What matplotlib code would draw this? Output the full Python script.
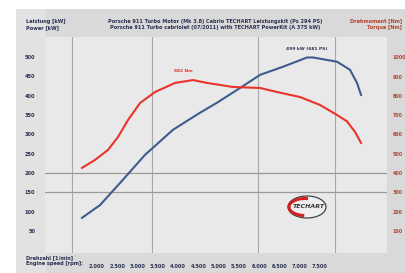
import numpy as np
import matplotlib
matplotlib.use("Agg")
import matplotlib.pyplot as plt
from matplotlib.patches import Rectangle, Ellipse, Arc

# ---- data ----
rpm_power = [1630, 2074, 2567, 3184, 3875, 4541, 4961, 5528, 6021, 6588, 7180, 7328, 7921, 8241, 8414, 8513]
power_kw = [84, 117, 174, 247, 312, 356, 382, 420, 454, 475, 499, 499, 488, 467, 433, 402]
rpm_torque = [1630, 1950, 2271, 2518, 2765, 3061, 3431, 3924, 4369, 4713, 5355, 6021, 6440, 7008, 7501, 7921, 8167, 8365, 8513]
torque_nm = [427, 468, 520, 587, 675, 763, 820, 867, 882, 867, 846, 841, 820, 794, 753, 701, 668, 613, 556]
rpm_ticks = [2000, 2500, 3000, 3500, 4000, 4500, 5000, 5500, 6000, 6500, 7000, 7500]
rpm_labels = ["2.000", "2.500", "3.000", "3.500", "4.000", "4.500", "5.000", "5.500", "6.000", "6.500", "7.000", "7.500"]
kw_ticks = [50, 100, 150, 200, 250, 300, 350, 400, 450, 500]
nm_ticks = [100, 200, 300, 400, 500, 600, 700, 800, 900, 1000]
vlines_rpm = [1383, 3357, 5972, 7871]
hlines_kw = [150, 200]

BLUE = "#3f5b8e"
RED = "#e8342b"
DARK_RED = "#b5422f"
TXT = "#2a3050"

W, H = 406, 273
fig = plt.figure(figsize=(W / 100, H / 100), dpi=100)
fig.patch.set_facecolor("white")

# card background (gray frame)
bg = fig.add_axes([0, 0, 1, 1]); bg.set_xlim(0, W); bg.set_ylim(H, 0); bg.axis("off")
bg.add_patch(Rectangle((16, 9), W - 16, H - 9, facecolor="#d9d9d9", edgecolor="none"))
bg.add_patch(Rectangle((16, 9), 30, H - 9, facecolor="#e2e2e2", edgecolor="none"))
bg.text(26, 21, "Leistung [kW]", fontsize=3.6, fontweight="bold", color=TXT, va="center")
bg.text(26, 28, "Power [kW]", fontsize=3.6, fontweight="bold", color=TXT, va="center")
bg.text(215, 21, "Porsche 911 Turbo Motor (Mk 3.8) Cabrio TECHART Leistungskit (Ps 294 PS)",
        fontsize=3.6, fontweight="bold", color=TXT, ha="center", va="center")
bg.text(215, 28, "Porsche 911 Turbo cabriolet (07/2011) with TECHART PowerKit (A 375 kW)",
        fontsize=3.6, fontweight="bold", color=TXT, ha="center", va="center")
bg.text(402, 21, "Drehmoment [Nm]", fontsize=3.6, fontweight="bold", color=DARK_RED, ha="right", va="center")
bg.text(402, 28, "Torque [Nm]", fontsize=3.6, fontweight="bold", color=DARK_RED, ha="right", va="center")
bg.text(26, 258, "Drehzahl [1/min]", fontsize=3.6, fontweight="bold", color=TXT, va="center")
bg.text(26, 264, "Engine speed [rpm]:", fontsize=3.6, fontweight="bold", color=TXT, va="center")

# plot area
x0, x1, y0, y1 = 45, 387, 37, 253
ax = fig.add_axes([x0 / W, 1 - y1 / H, (x1 - x0) / W, (y1 - y0) / H])
ax.set_facecolor("#e9e9e9")
ax.set_xlim(717, 9153)
ax.set_ylim(-7, 552)
for v in vlines_rpm:
    ax.axvline(v, color="#a8a8a8", lw=0.8, zorder=1)
for h in hlines_kw:
    ax.axhline(h, color="#9a9a9a", lw=0.9, zorder=1)
ax.plot(rpm_power, power_kw, color=BLUE, lw=1.5, zorder=3)
ax.set_xticks(rpm_ticks)
ax.set_xticklabels(rpm_labels)
ax.set_yticks(kw_ticks)
ax.tick_params(axis="both", length=0, labelsize=3.6, colors=TXT, pad=7)
ax.tick_params(axis="x", pad=8)
for s in ax.spines.values():
    s.set_visible(False)
for lab in ax.get_xticklabels() + ax.get_yticklabels():
    lab.set_fontweight("bold")

ax2 = ax.twinx()
ax2.set_ylim(-14, 1105)
ax2.plot(rpm_torque, torque_nm, color=RED, lw=1.5, zorder=3)
ax2.set_yticks(nm_ticks)
ax2.tick_params(axis="y", length=0, labelsize=3.4, colors=DARK_RED, pad=4)
for lab in ax2.get_yticklabels():
    lab.set_fontweight("bold")
for s in ax2.spines.values():
    s.set_visible(False)

# peak annotations
ip = int(np.argmax(power_kw))
ax.text(rpm_power[ip], power_kw[ip] + 22, f"{power_kw[ip]} kW (681 PS)", fontsize=3.2,
        fontweight="bold", color=TXT, ha="center", va="center")
it = int(np.argmax(torque_nm))
ax2.text(rpm_torque[it] - 250, torque_nm[it] + 45, f"{torque_nm[it]} Nm", fontsize=3.2,
         fontweight="bold", color=RED, ha="center", va="center")

# logo (overlay on top of the plot)
top = fig.add_axes([0, 0, 1, 1]); top.set_xlim(0, W); top.set_ylim(H, 0); top.axis("off")
top.patch.set_alpha(0)
top.add_patch(Ellipse((307, 207), 38, 22, facecolor="#efefef", edgecolor="#444444", lw=0.9))
top.add_patch(Arc((305, 207), 32, 17, theta1=95, theta2=290, color="#d42020", lw=2.2))
top.text(309, 207, "TECHART", fontsize=4.5, fontweight="bold", color="#333333",
         ha="center", va="center", style="italic")

fig.savefig("out.png", dpi=100)
